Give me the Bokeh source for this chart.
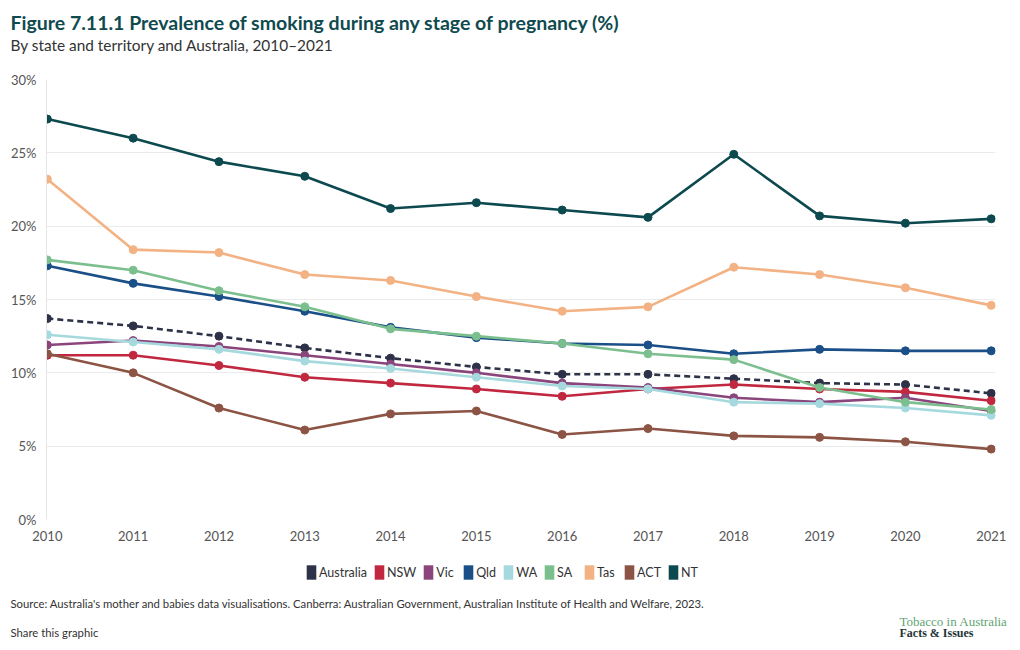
from bokeh.plotting import figure
from bokeh.layouts import column
from bokeh.models import Label, Legend, LegendItem, ColumnDataSource, FixedTicker, CustomJSTickFormatter, Range1d
from bokeh.embed import file_html
from bokeh.resources import INLINE

years = [2010, 2011, 2012, 2013, 2014, 2015, 2016, 2017, 2018, 2019, 2020, 2021]
australia = [13.7, 13.2, 12.5, 11.7, 11.0, 10.4, 9.9, 9.9, 9.6, 9.3, 9.2, 8.6]
nsw = [11.2, 11.2, 10.5, 9.7, 9.3, 8.9, 8.4, 8.9, 9.2, 8.9, 8.7, 8.1]
vic = [11.9, 12.2, 11.8, 11.2, 10.6, 10.0, 9.3, 9.0, 8.3, 8.0, 8.3, 7.4]
qld = [17.3, 16.1, 15.2, 14.2, 13.1, 12.4, 12.0, 11.9, 11.3, 11.6, 11.5, 11.5]
wa = [12.6, 12.1, 11.6, 10.8, 10.3, 9.7, 9.1, 8.9, 8.0, 7.9, 7.6, 7.1]
sa = [17.7, 17.0, 15.6, 14.5, 13.0, 12.5, 12.0, 11.3, 10.9, 9.0, 8.0, 7.5]
tas = [23.2, 18.4, 18.2, 16.7, 16.3, 15.2, 14.2, 14.5, 17.2, 16.7, 15.8, 14.6]
act = [11.3, 10.0, 7.6, 6.1, 7.2, 7.4, 5.8, 6.2, 5.7, 5.6, 5.3, 4.8]
nt = [27.3, 26.0, 24.4, 23.4, 21.2, 21.6, 21.1, 20.6, 24.9, 20.7, 20.2, 20.5]

series_names = ["Australia", "NSW", "Vic", "Qld", "WA", "SA", "Tas", "ACT", "NT"]
series_values = [australia, nsw, vic, qld, wa, sa, tas, act, nt]
colors = ["#2e3248", "#c1283f", "#8a467c", "#1b4f87", "#a6d9de", "#7cbf8e", "#f3b283", "#8c5444", "#0d4a4f"]
y_ticks = [0, 5, 10, 15, 20, 25, 30]

title_text = "Figure 7.11.1 Prevalence of smoking during any stage of pregnancy (%)"
subtitle_text = "By state and territory and Australia, 2010\u20132021"
source_text = ("Source: Australia's mother and babies data visualisations. Canberra: Australian Government, "
               "Australian Institute of Health and Welfare, 2023.")
share_text = "Share this graphic"
logo_top = "Tobacco in Australia"
logo_bottom = "Facts & Issues"

FONT = "Lato"
W = 1020
HEAD_H, MAIN_H, FOOT_H = 71, 478, 101


def no_align(f):
    if "frame_align" in f.properties():
        f.frame_align = False


def blank(h):
    f = figure(width=W, height=h, output_backend="svg", toolbar_location=None,
               x_range=Range1d(0, 1), y_range=Range1d(0, 1),
               x_axis_type=None, y_axis_type=None, min_border=0)
    f.outline_line_color = None
    f.xgrid.grid_line_color = None
    f.ygrid.grid_line_color = None
    f.border_fill_color = "white"
    no_align(f)
    return f


def lab(f, x, y, text, size, color="#333333", style="normal", font=FONT):
    f.add_layout(Label(x=x, y=y, x_units="screen", y_units="screen", text=text,
                       text_font=font, text_font_size=size, text_color=color,
                       text_font_style=style, text_align="left", text_baseline="middle"))


# header
head = blank(HEAD_H)
lab(head, 10, HEAD_H - 22, title_text, "19.5px", "#0f4a4f", "bold")
lab(head, 10, HEAD_H - 44, subtitle_text, "15.4px", "#333333")

# main chart
p = figure(width=W, height=MAIN_H, output_backend="svg", toolbar_location=None,
           x_range=Range1d(2009.99, 2021.05), y_range=Range1d(0, 30),
           min_border_left=46, min_border_right=25, min_border_top=8, min_border_bottom=30)
no_align(p)
p.outline_line_color = None
p.border_fill_color = "white"
p.xgrid.grid_line_color = None
p.ygrid.grid_line_color = "#ebebeb"
p.ygrid.grid_line_width = 1
p.xaxis.ticker = FixedTicker(ticks=years)
p.yaxis.ticker = FixedTicker(ticks=y_ticks)
p.yaxis.formatter = CustomJSTickFormatter(code="return tick + '%';")
for ax in (p.xaxis, p.yaxis):
    ax.major_tick_line_color = None
    ax.minor_tick_line_color = None
    ax.major_label_text_font = FONT
    ax.major_label_text_font_size = "13px"
    ax.major_label_text_color = "#555555"
p.xaxis.axis_line_color = None
p.yaxis.axis_line_color = "#e6e6e6"
p.yaxis.major_label_standoff = 4
p.xaxis.major_label_standoff = 5

for name, vals, col in zip(series_names, series_values, colors):
    src = ColumnDataSource(dict(x=years, y=vals))
    dash = "6 4" if name == "Australia" else "solid"
    p.line("x", "y", source=src, line_color=col, line_width=2.6, line_dash=dash)
    p.scatter("x", "y", source=src, marker="circle", size=8, fill_color=col, line_color=col)

# footer with legend and source
foot = blank(FOOT_H)
items = []
for name, col in zip(series_names, colors):
    dummy = foot.quad(left=[0.1], right=[0.2], bottom=[-3], top=[-2], fill_color=col, line_color=None)
    items.append(LegendItem(label=name, renderers=[dummy]))
legend = Legend(items=items, orientation="horizontal", location=(305, FOOT_H - 32),
                label_text_font=FONT, label_text_font_size="12.5px", label_text_color="#333333",
                glyph_width=12, glyph_height=18, label_standoff=2, spacing=6,
                border_line_color=None, background_fill_alpha=0, padding=0, margin=0)
foot.add_layout(legend, "center")
lab(foot, 10, FOOT_H - 54, source_text, "11.3px")
lab(foot, 10, FOOT_H - 83, share_text, "11.3px")
lab(foot, 899, FOOT_H - 72, logo_top, "13px", "#5fa473", font="Liberation Serif")
lab(foot, 899, FOOT_H - 83, logo_bottom, "12px", "#1e3535", "bold", font="Liberation Serif")

layout = column(head, p, foot, spacing=0)
open("out.html", "w").write(file_html(layout, INLINE))
